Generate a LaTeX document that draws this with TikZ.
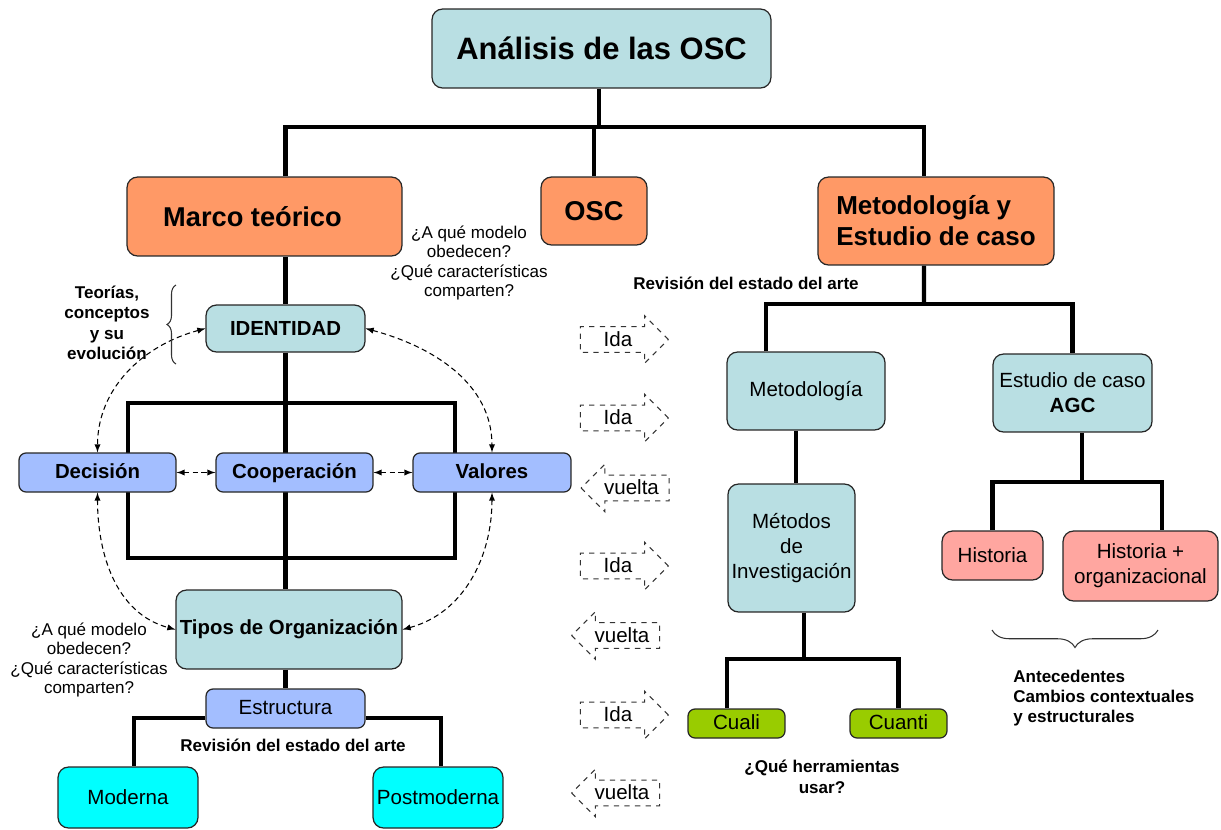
\documentclass[tikz,border=0pt]{standalone}
\usepackage{fontspec}
\setmainfont{Liberation Sans}
\usetikzlibrary{arrows,positioning,calc,shapes,decorations.pathreplacing,backgrounds}
\tikzset{>=latex}

\definecolor{celeste}{RGB}{185,223,227}
\definecolor{naranja}{RGB}{255,153,102}
\definecolor{lila}{RGB}{163,190,255}
\definecolor{cian}{RGB}{0,255,255}
\definecolor{verde}{RGB}{153,204,0}
\definecolor{rosa}{RGB}{255,166,160}

\tikzset{
  caja/.style={draw=black!85, line width=0.7pt, rounded corners=6pt, align=center, inner sep=2pt},
  cajita/.style={caja, rounded corners=4pt, text height=1.6ex, text depth=0.3ex},
  titulo/.style={font=\fontsize{17.6}{21}\selectfont\bfseries},
  grande/.style={font=\fontsize{15.5}{17.6}\selectfont\bfseries},
  media/.style={font=\fontsize{11.6}{14}\selectfont\bfseries},
  normal/.style={font=\fontsize{11.7}{14.2}\selectfont},
  nota/.style={align=center, inner sep=0pt, font=\fontsize{9.7}{11}\selectfont},
  notab/.style={nota, font=\fontsize{9.7}{11.6}\selectfont\bfseries},
  ida/.style={single arrow, draw=black!80, dashed, line width=0.6pt, normal,
    inner ysep=2.8pt, text height=8.2pt, text depth=0.3pt,
    single arrow head extend=0.22cm, minimum height=1.76cm},
  vuelta/.style={ida, shape border rotate=180},
  enlace/.style={<->, dashed, dash pattern=on 3pt off 2pt, line width=0.6pt},
  llave/.style={decorate, draw=black!80, line width=0.6pt}
}

\begin{document}
\begin{tikzpicture}[x=0.02cm, y=-0.02cm]
\useasboundingbox (0,0) rectangle (1221,829);

% nivel superior
\node[caja, fill=celeste, titulo, minimum width=6.78cm, minimum height=1.58cm] (analisis) at (601.5,48.5) {Análisis de las OSC};
\node[caja, fill=naranja, grande, minimum width=5.5cm, minimum height=1.58cm] (marco) at (264.5,216.5) {Marco teórico\hspace*{0.48cm}};
\node[caja, fill=naranja, grande, minimum width=2.12cm, minimum height=1.36cm] (osc) at (594,211) {OSC};
\node[caja, fill=naranja, font=\fontsize{14.8}{17.6}\selectfont\bfseries, align=left, minimum width=4.72cm, minimum height=1.76cm] (metest) at (936,221) {Metodología y\\Estudio de caso};

% marco teorico
\node[caja, fill=celeste, media, minimum width=3.18cm, minimum height=0.94cm] (identidad) at (285.5,328.5) {IDENTIDAD};
\node[cajita, fill=lila, media, minimum width=3.14cm, minimum height=0.78cm] (decision) at (97.5,472.5) {Decisión};
\node[cajita, fill=lila, media, minimum width=3.14cm, minimum height=0.78cm] (coop) at (294.5,472.5) {Cooperación};
\node[cajita, fill=lila, media, minimum width=3.16cm, minimum height=0.78cm] (valores) at (492,472.5) {Valores};
\node[caja, fill=celeste, media, minimum width=4.52cm, minimum height=1.58cm] (tipos) at (289,629.5) {Tipos de Organización};
\node[cajita, fill=lila, normal, minimum width=3.18cm, minimum height=0.78cm] (estructura) at (285.5,708.5) {Estructura};
\node[caja, fill=cian, normal, minimum width=2.8cm, minimum height=1.22cm] (moderna) at (128,797.5) {Moderna};
\node[caja, fill=cian, normal, minimum width=2.6cm, minimum height=1.22cm] (postmoderna) at (438,797.5) {Postmoderna};

% metodologia
\node[caja, fill=celeste, normal, minimum width=3.16cm, minimum height=1.56cm] (metodologia) at (806,391) {Metodología};
\node[caja, fill=celeste, normal, minimum width=3.18cm, minimum height=1.56cm] (estudio) at (1072.5,393) {Estudio de caso\\\textbf{AGC}};
\node[caja, fill=celeste, normal, minimum width=2.54cm, minimum height=2.56cm] (metodos) at (791.5,548) {Métodos\\de\\Investigación};
\node[cajita, fill=verde, normal, minimum width=1.94cm, minimum height=0.58cm] (cuali) at (736.5,723.5) {Cuali};
\node[cajita, fill=verde, normal, minimum width=1.94cm, minimum height=0.58cm] (cuanti) at (898.5,723.5) {Cuanti};
\node[caja, fill=rosa, normal, minimum width=2.02cm, minimum height=0.98cm] (historia) at (992.5,555.5) {Historia};
\node[caja, fill=rosa, normal, minimum width=3.1cm, minimum height=1.4cm] (historiaorg) at (1140.5,566) {Historia +\\organizacional};

% notas
\node[nota] (pregunta1) at (469,263) {¿A qué modelo\\obedecen?\\¿Qué características\\comparten?};
\node[nota] (pregunta2) at (89,660) {¿A qué modelo\\obedecen?\\¿Qué características\\comparten?};
\node[notab] (teorias) at (107,323) {Teorías,\\conceptos\\y su\\evolución};
\node[notab] (revision1) at (746,283) {Revisión del estado del arte};
\node[notab] (revision2) at (293,745) {Revisión del estado del arte};
\node[notab] (herramientas) at (822,777) {¿Qué herramientas\\usar?};
\node[notab, align=left, anchor=west] (antecedentes) at (1013,698) {Antecedentes\\Cambios contextuales\\y estructurales};

% ida y vuelta
\node[ida] (ida1) at (618,339.5) {Ida};
\node[ida] (ida2) at (618,418) {Ida};
\node[vuelta] (vuelta1) at (631.5,488) {vuelta};
\node[ida] (ida3) at (618,566) {Ida};
\node[vuelta] (vuelta2) at (622,635.5) {vuelta};
\node[ida] (ida4) at (618,715) {Ida};
\node[vuelta] (vuelta3) at (622,793) {vuelta};

\coordinate (nudo1) at (599,127);
\coordinate (nudo2) at (924,304);
\coordinate (nudo3) at (804,659);
\coordinate (nudo4) at (1082,482);

\begin{pgfonlayer}{background}
\begin{scope}[line width=2.3pt]
\draw (analisis.south -| nudo1) -- (nudo1);
\draw (marco.north -| identidad.north) |- (nudo1) -| ([xshift=-0.24cm]metest.north);
\draw (osc.north) -- (osc.north |- nudo1);
\draw (marco.south -| identidad.north) -- (identidad.north);
\draw (identidad.south) -- (identidad.south |- tipos.north);
\draw (128,403) rectangle (455,558);
\draw (tipos.south -| estructura.north) -- (estructura.north);
\draw ([yshift=-0.19cm]estructura.west) -| ([xshift=0.12cm]moderna.north);
\draw ([yshift=-0.19cm]estructura.east) -| ([xshift=0.06cm]postmoderna.north);
\draw ([xshift=-0.24cm]metest.south) -- (nudo2);
\draw ([xshift=-0.8cm]metodologia.north) |- (nudo2) -| (estudio.north);
\draw ([xshift=-0.2cm]metodologia.south) -- ([xshift=-0.2cm]metodologia.south |- metodos.north);
\draw (metodos.south -| nudo3) -- (nudo3);
\draw ([xshift=-0.19cm]cuali.north) |- (nudo3) -| (cuanti.north);
\draw (estudio.south -| nudo4) -- (nudo4);
\draw (historia.north) |- (nudo4) -| ([xshift=0.43cm]historiaorg.north);
\end{scope}
\end{pgfonlayer}

\draw[enlace] (decision.east) -- (coop.west);
\draw[enlace] (coop.east) -- (valores.west);
\draw[enlace] (identidad.west) to[out=195,in=90] (decision.north);
\draw[enlace] (identidad.east) to[out=-15,in=90] (valores.north);
\draw[enlace] (decision.south) to[out=-90,in=165] (tipos.west);
\draw[enlace] (valores.south) to[out=-90,in=15] (tipos.east);

\draw[llave, decoration={brace, amplitude=0.18cm}] (176,364) -- (176,285);
\draw[llave, decoration={brace, amplitude=0.35cm}] (1158,630) -- (992,630);
%\draw[help lines] (0,0) grid (1221,829);
\end{tikzpicture}
\end{document}
